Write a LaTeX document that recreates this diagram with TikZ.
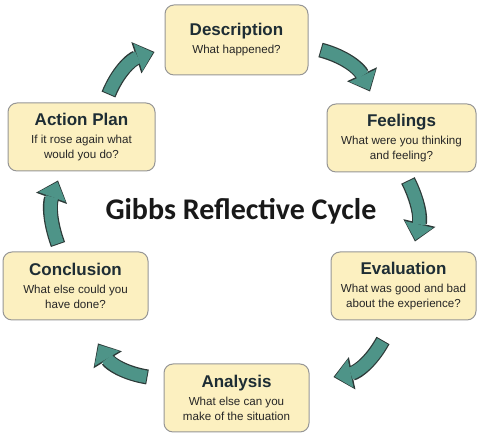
\documentclass[tikz,border=0pt]{standalone}
\usepackage{fontspec}
\setmainfont{Liberation Sans}
\newfontfamily\titlefont{Carlito}
\usetikzlibrary{arrows.meta}
\definecolor{boxfill}{RGB}{252,240,192}
\definecolor{boxline}{RGB}{150,150,150}
\definecolor{cycfill}{RGB}{78,148,136}
\definecolor{cycline}{RGB}{45,58,56}
\definecolor{headtext}{RGB}{30,45,52}
\tikzset{
  stage/.style={draw=boxline, fill=boxfill, rounded corners=9pt, line width=1pt,
                minimum width=145pt, minimum height=68pt, align=center,
                inner sep=2pt, text=black!85,
                font=\fontsize{11.6}{15}\selectfont},
  cyc/.style={draw=cycfill, line width=12.5pt, shorten <=1pt, shorten >=1.5pt,
              -{Triangle[length=16pt, width=29pt, line width=0pt]},
              preaction={draw=cycline, line width=15pt, shorten <=0pt,
                         shorten >=0pt,
                         -{Triangle[length=19pt, width=33pt, line width=0pt]}}},
}
\newcommand{\stg}[2]{{\color{headtext}\bfseries\fontsize{17}{19}\selectfont #1}\\[3pt]#2}

\begin{document}
\begin{tikzpicture}[x=1pt, y=1pt]
\useasboundingbox (0,0) rectangle (480,435);

% stages
\node[stage, minimum width=143pt, minimum height=70pt] (desc) at (236.5,395)
  {\stg{Description}{What happened?}};
\node[stage, minimum width=149pt] (feel) at (401.5,297)
  {\stg{Feelings}{What were you thinking\\and feeling?}};
\node[stage, minimum width=147pt] (act) at (81.5,298)
  {\stg{Action Plan}{If it rose again what\\would you do?}};
\node[stage] (eval) at (403.5,149)
  {\stg{Evaluation}{What was good and bad\\about the experience?}};
\node[stage] (conc) at (75.5,149)
  {\stg{Conclusion}{What else could you\\have done?}};
\node[stage] (anal) at (236.5,37)
  {\stg{Analysis}{What else can you\\make of the situation}};

\node[font=\titlefont\bfseries\fontsize{30}{33}\selectfont, text=black!90] (title)
  at (241,224) {Gibbs Reflective Cycle};

% cycle arrows
\draw[cyc] ([shift={(27,8)}]act.north) to[bend left=25] ([shift={(-10,-12)}]desc.west);
\draw[cyc] ([shift={(12,-10)}]desc.east) to[bend left=25] ([shift={(-31.5,12)}]feel.north);
\draw[cyc] ([shift={(6.5,-8)}]feel.south) to[bend left=20] ([shift={(11.5,10)}]eval.north);
\draw[cyc] ([shift={(-20.5,-20)}]eval.south) to[bend left=25] ([shift={(24,21)}]anal.east);
\draw[cyc] ([shift={(-16,21)}]anal.west) to[bend left=25] ([shift={(22.5,-23)}]conc.south);
\draw[cyc] ([shift={(-17.5,7)}]conc.north) to[bend left=20] ([shift={(-23.5,-9)}]act.south);

\end{tikzpicture}
\end{document}
